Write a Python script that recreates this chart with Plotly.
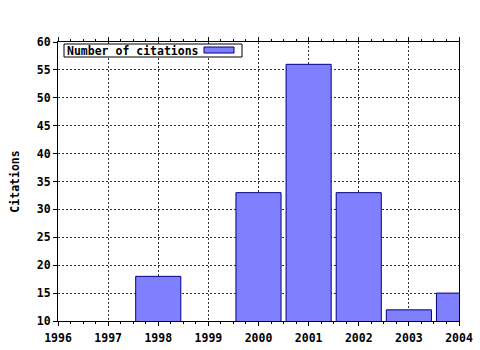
import plotly.graph_objects as go

years = [1998, 2000, 2001, 2002, 2003, 2004]
citations = [18, 33, 56, 33, 12, 15]
x_ticks = [1996, 1997, 1998, 1999, 2000, 2001, 2002, 2003, 2004]
y_ticks = [10, 15, 20, 25, 30, 35, 40, 45, 50, 55, 60]
series_name = "Number of citations"
y_title = "Citations"

font = dict(family="DejaVu Sans Mono", size=11.5, color="black", weight="bold")

fig = go.Figure()
fig.add_trace(go.Bar(
    x=years, y=citations, name=series_name, width=0.9,
    marker=dict(color="#8080ff", line=dict(color="#000080", width=1)),
    showlegend=False,
))

fig.update_layout(
    width=480, height=350,
    margin=dict(l=58, r=21, t=42, b=29),
    paper_bgcolor="white", plot_bgcolor="white",
    font=font,
    xaxis=dict(
        range=[1996, 2004], tickvals=x_ticks, ticktext=[str(v) for v in x_ticks],
        showgrid=True, gridcolor="#333333", griddash="2px,2px", gridwidth=1,
        showline=True, linecolor="black", linewidth=1, mirror="allticks",
        ticks="outside", ticklen=4, tickcolor="black",
        minor=dict(dtick=0.25, tick0=1996, ticks="outside", ticklen=2, tickcolor="black", showgrid=False),
        zeroline=False, tickfont=font, automargin=False, ticklabelstandoff=2,
    ),
    yaxis=dict(
        range=[10, 60], tickvals=y_ticks,
        showgrid=True, gridcolor="#333333", griddash="2px,2px", gridwidth=1,
        showline=True, linecolor="black", linewidth=1, mirror=True,
        ticks="outside", ticklen=4, tickcolor="black",
        zeroline=False, tickfont=font, automargin=False,
        title=dict(text=y_title, font=font, standoff=14),
    ),
)

# legend box (text on left, swatch on right)
def px_x(p):
    return (p - 58) / 401

def px_y(p):
    return (321 - p) / 279

fig.add_shape(
    type="rect", xref="paper", yref="paper", layer="above",
    x0=px_x(64), x1=px_x(242), y0=px_y(57), y1=px_y(44),
    fillcolor="white", line=dict(color="black", width=1),
)
fig.add_shape(
    type="rect", xref="paper", yref="paper", layer="above",
    x0=px_x(204), x1=px_x(234), y0=px_y(53), y1=px_y(47),
    fillcolor="#8080ff", line=dict(color="#000080", width=1),
)
fig.add_annotation(
    xref="paper", yref="paper", x=px_x(65), y=px_y(50.5), xanchor="left", yanchor="middle",
    text=series_name, showarrow=False, align="left",
    font=font,
)

fig.write_html("out.html")
